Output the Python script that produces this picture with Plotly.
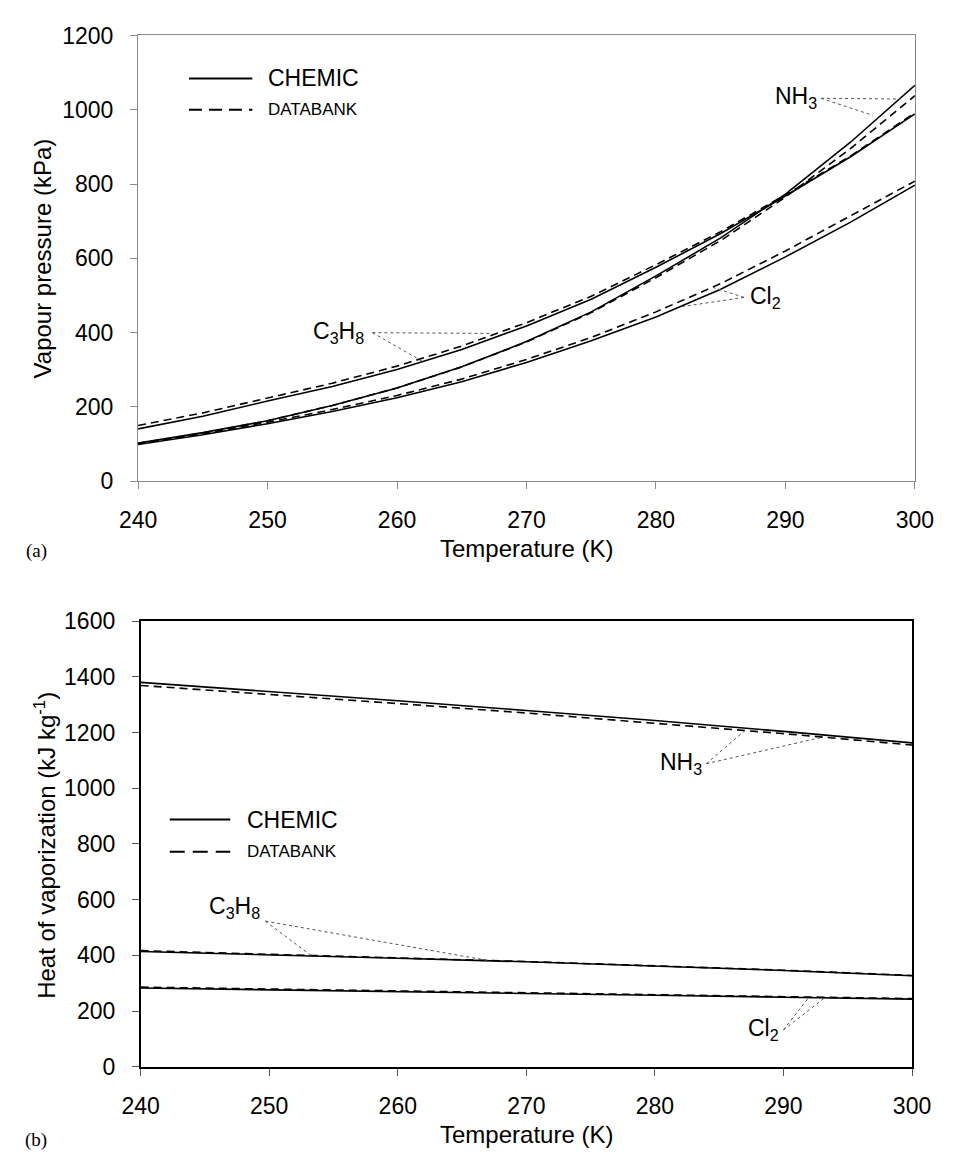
import plotly.graph_objects as go

# ---------------- data ----------------
# (a) vapour pressure, kPa
T_vp = [240, 245, 250, 255, 260, 265, 270, 275, 280, 285, 290, 295, 300]
nh3_vp_chemic = [103, 131, 163, 204, 251, 308, 376, 456, 553, 655, 773, 912, 1066]
nh3_vp_databank = [102, 130, 163, 204, 251, 308, 375, 454, 548, 648, 765, 895, 1038]
c3h8_vp_chemic = [141, 175, 216, 255, 301, 355, 418, 490, 576, 667, 768, 873, 989]
c3h8_vp_databank = [150, 184, 224, 264, 310, 364, 427, 498, 583, 672, 771, 875, 992]
cl2_vp_chemic = [99, 125, 155, 188, 225, 268, 320, 378, 442, 517, 604, 697, 797]
cl2_vp_databank = [101, 128, 159, 193, 231, 275, 328, 387, 456, 532, 620, 713, 808]

# (b) heat of vaporization, kJ/kg
T_hv = [240, 250, 260, 270, 280, 290, 300]
nh3_hv_chemic = [1380, 1348, 1314, 1279, 1243, 1204, 1163]
nh3_hv_databank = [1369, 1337, 1304, 1270, 1234, 1196, 1155]
c3h8_hv_chemic = [414, 403, 390, 377, 362, 346, 327]
c3h8_hv_databank = [417, 405, 391, 378, 363, 347, 328]
cl2_hv_chemic = [283, 277, 270, 264, 257, 250, 243]
cl2_hv_databank = [286, 280, 273, 266, 259, 252, 245]

series_names = ["CHEMIC", "DATABANK"]
x_ticks = [240, 250, 260, 270, 280, 290, 300]
y_ticks_a = [0, 200, 400, 600, 800, 1000, 1200]
y_ticks_b = [0, 200, 400, 600, 800, 1000, 1200, 1400, 1600]

# label annotations: (text, label x, label y, anchor, leader start, leader ends)
labels_a = [
    ("NH<sub>3</sub>", 292.6, 1032, "right", (292.75, 1031), [(298.9, 1029), (296.75, 985)]),
    ("C<sub>3</sub>H<sub>8</sub>", 257.6, 400, "right", (258.1, 400), [(267.4, 398), (262.0, 322)]),
    ("Cl<sub>2</sub>", 287.1, 495, "left", (286.8, 495), [(284.4, 522), (281.8, 469)]),
]
labels_b = [
    ("NH<sub>3</sub>", 283.8, 1088, "right", (284.0, 1088), [(287.15, 1213), (293.1, 1184)]),
    ("C<sub>3</sub>H<sub>8</sub>", 249.4, 572, "right", (249.7, 523), [(253.3, 398), (267.1, 381)]),
    ("Cl<sub>2</sub>", 289.8, 133, "right", (290.0, 133), [(292.0, 251), (293.3, 251)]),
]

FONT = "Liberation Sans, Arial, sans-serif"
W, H = 956, 1161

fig = go.Figure()

def add_pair(T, chem, data, xa, ya):
    fig.add_trace(go.Scatter(x=T, y=chem, mode="lines", xaxis=xa, yaxis=ya,
                             line=dict(color="black", width=1.6), showlegend=False))
    fig.add_trace(go.Scatter(x=T, y=data, mode="lines", xaxis=xa, yaxis=ya,
                             line=dict(color="black", width=1.6, dash="8px,5px"),
                             showlegend=False))

add_pair(T_vp, nh3_vp_chemic, nh3_vp_databank, "x", "y")
add_pair(T_vp, c3h8_vp_chemic, c3h8_vp_databank, "x", "y")
add_pair(T_vp, cl2_vp_chemic, cl2_vp_databank, "x", "y")
add_pair(T_hv, nh3_hv_chemic, nh3_hv_databank, "x2", "y2")
add_pair(T_hv, c3h8_hv_chemic, c3h8_hv_databank, "x2", "y2")
add_pair(T_hv, cl2_hv_chemic, cl2_hv_databank, "x2", "y2")

shapes = []
annotations = []

def add_labels(labels, xr, yr):
    for text, lx, ly, anchor, start, ends in labels:
        annotations.append(dict(text=text, x=lx, y=ly, xref=xr, yref=yr,
                                xanchor=anchor, yanchor="middle", showarrow=False,
                                font=dict(family=FONT, size=23, color="black")))
        for ex, ey in ends:
            shapes.append(dict(type="line", xref=xr, yref=yr, x0=start[0], y0=start[1],
                               x1=ex, y1=ey, line=dict(color="#555555", width=1, dash="dot")))

add_labels(labels_a, "x", "y")
add_labels(labels_b, "x2", "y2")

# domains (paper coords, margin 0)
xa_dom = [124 / W, 933 / W]
ya_dom = [1 - 479 / H, 1 - 23 / H]
xb_dom = [126.7 / W, 930 / W]
yb_dom = [1 - 1078 / H, 1 - 622 / H]

# legends drawn as key lines + text
def add_legend(x0, x1, y_solid, y_dash, text_x, dash):
    shapes.append(dict(type="line", xref="paper", yref="paper", x0=x0 / W, x1=x1 / W,
                       y0=1 - y_solid / H, y1=1 - y_solid / H,
                       line=dict(color="black", width=2)))
    shapes.append(dict(type="line", xref="paper", yref="paper", x0=x0 / W, x1=x1 / W,
                       y0=1 - y_dash / H, y1=1 - y_dash / H,
                       line=dict(color="black", width=2, dash=dash)))
    annotations.append(dict(text=series_names[0], x=text_x / W, y=1 - y_solid / H,
                            xref="paper", yref="paper", xanchor="left", yanchor="middle",
                            showarrow=False, font=dict(family=FONT, size=23, color="black")))
    annotations.append(dict(text=series_names[1], x=text_x / W, y=1 - y_dash / H,
                            xref="paper", yref="paper", xanchor="left", yanchor="middle",
                            showarrow=False, font=dict(family=FONT, size=17, color="black")))

add_legend(177, 243, 67, 99, 257, "13px,7px")
add_legend(157, 220, 825, 858, 235, "15px,8px")

# axis titles and panel tags
def ann(text, x, y, size=24, angle=0, family=FONT):
    annotations.append(dict(text=text, x=x / W, y=1 - y / H, xref="paper", yref="paper",
                            xanchor="center", yanchor="middle", showarrow=False,
                            textangle=angle, font=dict(family=family, size=size, color="black")))

ann("Vapour pressure (kPa)", 24, 251, angle=-90)
ann("Temperature (K)", 528, 548)
ann("(a)", 18, 550, size=19, family="Liberation Serif, Times New Roman, serif")
ann("Heat of vaporization (kJ kg<sup>-1</sup>)", 27, 851, angle=-90)
ann("Temperature (K)", 528, 1147)
ann("(b)", 18, 1153, size=19, family="Liberation Serif, Times New Roman, serif")

axis_common = dict(showgrid=False, zeroline=False, mirror=True, ticks="outside",
                   ticklen=7, tickwidth=1, showline=True,
                   tickfont=dict(family=FONT, size=23, color="black"))

fig.update_layout(
    width=W, height=H, margin=dict(l=0, r=0, t=0, b=0),
    paper_bgcolor="white", plot_bgcolor="white", showlegend=False,
    xaxis=dict(domain=xa_dom, anchor="y", range=[240, 300], tickvals=x_ticks,
               linecolor="#8a8a8a", tickcolor="#8a8a8a", linewidth=1.3,
               ticklabelstandoff=11, **axis_common),
    yaxis=dict(domain=ya_dom, anchor="x", range=[0, 1200], tickvals=y_ticks_a,
               linecolor="#8a8a8a", tickcolor="#8a8a8a", linewidth=1.3,
               ticklabelstandoff=12, **axis_common),
    xaxis2=dict(domain=xb_dom, anchor="y2", range=[240, 300], tickvals=x_ticks,
                linecolor="black", tickcolor="#555555", linewidth=1.6,
                ticklabelstandoff=11, **axis_common),
    yaxis2=dict(domain=yb_dom, anchor="x2", range=[0, 1600], tickvals=y_ticks_b,
                linecolor="black", tickcolor="#555555", linewidth=1.6,
                ticklabelstandoff=12, **axis_common),
    shapes=shapes, annotations=annotations,
)

fig.write_html("out.html")
